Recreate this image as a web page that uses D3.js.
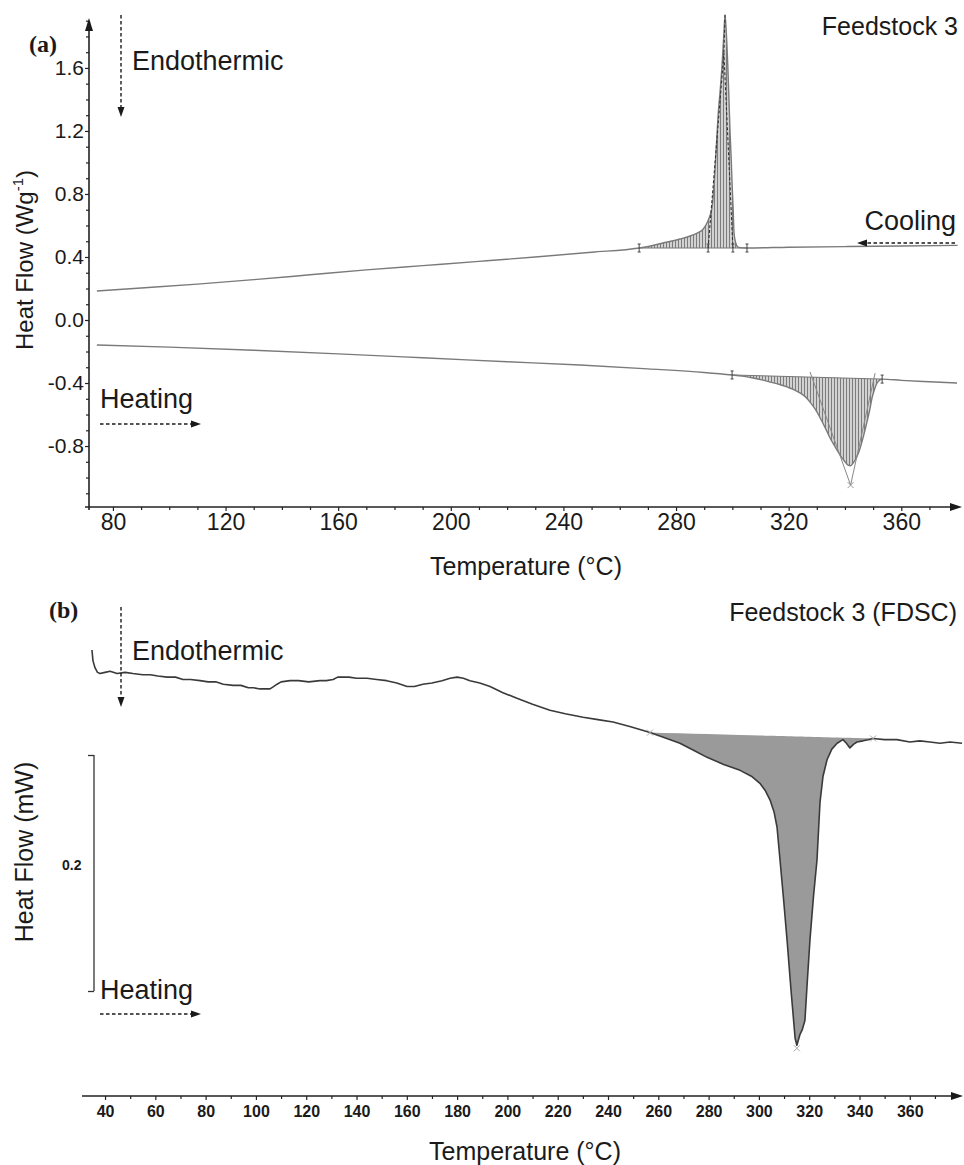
<!DOCTYPE html>
<html lang="en">
<head>
    <meta charset="UTF-8">
    <title>Feedstock 3 DSC / FDSC</title>
    <script src="https://d3js.org/d3.v7.min.js"></script>
    <style>
        body, html {
            margin: 0;
            padding: 0;
            overflow: hidden;
            background: #fff;
        }
        svg {
            display: block;
            background: #fff;
        }
        text {
            font-family: "Liberation Sans", Arial, sans-serif;
            fill: #1a1a1a;
        }
        .panel-tag {
            font-family: "Liberation Serif", "Times New Roman", serif;
            font-weight: bold;
        }
    </style>
</head>
<body>
<svg width="964" height="1165"></svg>

<script>
    // ---- (a) DSC, Wg-1 ----
    const coolT = [74.3, 90, 110, 130, 150, 170, 190, 210, 230, 250,
        266.9, 271, 275.4, 279, 281.4, 284.5, 287.5, 289.5, 291.0, 292.0,
        292.8, 293.4, 293.9, 294.4, 294.9, 295.6, 296.3, 297.0, 297.4, 297.8,
        298.4, 298.8, 299.2, 299.6, 299.9, 300.3, 300.6, 301.2, 302.0, 303.8,
        305.2, 320, 340, 360, 380];
    const coolHF = [0.184, 0.203, 0.228, 0.256, 0.287, 0.318, 0.345, 0.372, 0.400, 0.430,
        0.457, 0.470, 0.489, 0.503, 0.514, 0.530, 0.552, 0.575, 0.616, 0.660,
        0.717, 0.830, 0.971, 1.130, 1.289, 1.440, 1.606, 1.820, 1.937, 1.840,
        1.606, 1.400, 1.187, 1.020, 0.870, 0.700, 0.552, 0.490, 0.463, 0.458,
        0.457, 0.462, 0.466, 0.470, 0.474];

    const heatT = [74.3, 100, 130, 160, 190, 220, 245.9, 270, 290, 299.9,
        303.5, 307.4, 310.5, 313.4, 316.5, 319.4, 322, 324.0, 326, 327.6,
        329.5, 331.2, 333, 334.7, 336.5, 338.3, 339.8, 341.1, 342.0, 342.9,
        344.2, 345.4, 346.6, 347.8, 348.8, 349.6, 350.5, 351.4, 352.3, 353.2,
        360, 370, 379.8];
    const heatHF = [-0.159, -0.172, -0.192, -0.215, -0.240, -0.265, -0.286, -0.310, -0.333, -0.349,
        -0.356, -0.368, -0.380, -0.394, -0.408, -0.425, -0.443, -0.463, -0.488, -0.521,
        -0.568, -0.622, -0.685, -0.749, -0.805, -0.857, -0.895, -0.921, -0.925, -0.908,
        -0.870, -0.813, -0.735, -0.648, -0.570, -0.495, -0.440, -0.400, -0.382, -0.375,
        -0.383, -0.392, -0.400];

    const coolPeak = [266.9, 305.2];      // integration limits
    const heatPeak = [299.9, 353.2];
    const coolTangents = [[291.4, 0.457], [297.0, 1.695], [300.2, 0.457]];
    const heatTangents = [[327.6, -0.330], [342.0, -1.048], [350.7, -0.337]];

    const aTicksX = [80, 120, 160, 200, 240, 280, 320, 360];
    const aTicksY = [-0.8, -0.4, 0.0, 0.4, 0.8, 1.2, 1.6];

    // ---- (b) FDSC, mW ----
    const fdscT = [34.8, 35.2, 36.0, 37.0, 38.0, 40, 42, 44.8, 48, 51.1,
        55, 58, 61, 64.7, 68, 71, 74, 77.8, 81, 84,
        87, 90.9, 94, 97, 99, 101.6, 103.5, 105.6, 107, 108.4,
        110, 113.6, 117, 121, 125.5, 128, 130.7, 132.5, 134.6, 137,
        140, 144.2, 148, 152, 156, 160.1, 163, 166.4, 170, 174,
        177.2, 180, 182.5, 185.1, 189, 193.1, 198, 203.8, 210, 216.9,
        223, 230.1, 236, 242, 249, 256.7, 262, 268.6, 274, 279.4,
        286, 292.5, 297, 300.4, 302.5, 304.4, 306, 307.2, 308.4, 309.8,
        311.2, 312.8, 314.4, 315.1, 316.3, 317.2, 318.3, 319.3, 320.3, 321.7,
        323.1, 324.3, 325.5, 327.1, 329, 331.1, 333.4, 334.8, 336.2, 337.6,
        339.0, 341.4, 343.5, 345.4, 350, 354.9, 360, 364, 368, 372,
        376, 380.8];
    const fdscHF = [0.289, 0.280, 0.274, 0.270, 0.269, 0.270, 0.271, 0.269, 0.270, 0.269,
        0.268, 0.268, 0.267, 0.266, 0.266, 0.264, 0.264, 0.263, 0.262, 0.262,
        0.260, 0.259, 0.259, 0.257, 0.257, 0.256, 0.256, 0.256, 0.258, 0.260,
        0.262, 0.263, 0.263, 0.262, 0.263, 0.263, 0.264, 0.266, 0.266, 0.266,
        0.265, 0.265, 0.264, 0.263, 0.261, 0.258, 0.258, 0.260, 0.261, 0.263,
        0.265, 0.266, 0.265, 0.263, 0.261, 0.258, 0.253, 0.248, 0.243, 0.238,
        0.235, 0.232, 0.230, 0.228, 0.224, 0.219, 0.215, 0.210, 0.204, 0.198,
        0.192, 0.187, 0.182, 0.176, 0.170, 0.162, 0.152, 0.139, 0.111, 0.078,
        0.043, 0.000, -0.040, -0.046, -0.037, -0.033, -0.025, 0.010, 0.043, 0.080,
        0.111, 0.160, 0.182, 0.196, 0.205, 0.210, 0.213, 0.210, 0.206, 0.209,
        0.211, 0.212, 0.213, 0.214, 0.213, 0.213, 0.211, 0.212, 0.211, 0.210,
        0.211, 0.210];

    const fdscPeak = [256.7, 345.4];
    const fdscMin = [315.1, -0.046];
    const bTicksX = d3.range(40, 361, 20);
    const bScaleBar = [0, 0.2];

    const svg = d3.select('svg');
    const ink = '#1a1a1a';

    const defs = svg.append('defs');
    const hatch = defs.append('pattern')
        .attr('id', 'hatch')
        .attr('patternUnits', 'userSpaceOnUse')
        .attr('width', 3)
        .attr('height', 8);
    hatch.append('rect').attr('width', 3).attr('height', 8).attr('fill', '#d2d2d2');
    hatch.append('line')
        .attr('x1', 0.5).attr('x2', 0.5).attr('y1', 0).attr('y2', 8)
        .attr('stroke', '#7c7c7c').attr('stroke-width', 1);

    function arrowHead(g, x, y, angle, len, wid) {
        g.append('path')
            .attr('d', `M0,0 L${-len},${-wid / 2} L${-len},${wid / 2} Z`)
            .attr('transform', `translate(${x},${y}) rotate(${angle})`)
            .attr('fill', ink);
    }

    function dashedArrow(x1, y1, x2, y2) {
        const ang = Math.atan2(y2 - y1, x2 - x1);
        const len = 10;
        svg.append('line')
            .attr('x1', x1).attr('y1', y1)
            .attr('x2', x2 - Math.cos(ang) * len).attr('y2', y2 - Math.sin(ang) * len)
            .attr('stroke', ink).attr('stroke-width', 1.4)
            .attr('stroke-dasharray', '3.5,2.5');
        arrowHead(svg, x2, y2, ang * 180 / Math.PI, len, 7);
    }

    function label(x, y, txt, size, anchor) {
        return svg.append('text')
            .attr('x', x).attr('y', y)
            .attr('font-size', size)
            .attr('text-anchor', anchor || 'start')
            .text(txt);
    }

    function styleAxis(g, size, weight) {
        g.select('.domain').remove();
        g.selectAll('.tick line').attr('stroke', '#222').attr('stroke-width', 1.2);
        g.selectAll('.tick text')
            .attr('font-size', size)
            .attr('font-weight', weight || 'normal')
            .attr('fill', '#111')
            .attr('font-family', '"Liberation Sans", Arial, sans-serif');
    }

    function peakPoints(T, V, lim) {
        const v0 = V[T.indexOf(lim[0])];
        const v1 = V[T.indexOf(lim[1])];
        return T.map((t, i) => ({ t: t, v: V[i], b: v0 + (v1 - v0) * (t - lim[0]) / (lim[1] - lim[0]) }))
            .filter(d => d.t >= lim[0] && d.t <= lim[1]);
    }

    // =============== panel (a) ===============
    const xA = d3.scaleLinear().domain([71.5, 380.5]).range([89, 959]);
    const yA = d3.scaleLinear().domain([-1.187, 1.917]).range([507, 18]);
    const gA = svg.append('g');

    const axA = gA.append('g')
        .attr('transform', 'translate(0,507)')
        .call(d3.axisBottom(xA).tickValues(aTicksX).tickSize(4).tickPadding(3));
    styleAxis(axA, 23);
    const axAm = gA.append('g')
        .attr('transform', 'translate(0,507)')
        .call(d3.axisBottom(xA).tickValues(d3.range(80, 371, 10).filter(v => v % 40 !== 0)).tickSize(3).tickFormat(''));
    styleAxis(axAm, 10);

    const ayA = gA.append('g')
        .attr('transform', 'translate(89,0)')
        .call(d3.axisLeft(yA).tickValues(aTicksY).tickSize(4).tickPadding(1).tickFormat(d => d.toFixed(1)));
    styleAxis(ayA, 21);
    const ayAm = gA.append('g')
        .attr('transform', 'translate(89,0)')
        .call(d3.axisLeft(yA).tickValues(d3.range(-11, 20).filter(i => i % 4 !== 0).map(i => i / 10)).tickSize(3).tickFormat(''));
    styleAxis(ayAm, 10);

    gA.append('line').attr('x1', 85).attr('x2', 951).attr('y1', 507).attr('y2', 507)
        .attr('stroke', '#222').attr('stroke-width', 1.6);
    arrowHead(gA, 962, 507, 0, 12, 8);
    gA.append('line').attr('x1', 89).attr('x2', 89).attr('y1', 510).attr('y2', 30)
        .attr('stroke', '#222').attr('stroke-width', 1.6);
    arrowHead(gA, 89, 18, -90, 13, 8);

    const lineA = d3.line().x(d => xA(d[0])).y(d => yA(d[1])).curve(d3.curveMonotoneX);
    const areaA = d3.area().x(d => xA(d.t)).y0(d => yA(d.b)).y1(d => yA(d.v)).curve(d3.curveMonotoneX);

    // hatched peak areas
    const coolPts = peakPoints(coolT, coolHF, coolPeak);
    const heatPts = peakPoints(heatT, heatHF, heatPeak);
    gA.append('path').datum(coolPts).attr('d', areaA).attr('fill', 'url(#hatch)');
    gA.append('path').datum(heatPts).attr('d', areaA).attr('fill', 'url(#hatch)');

    // integration baselines
    [coolPts, heatPts].forEach(pts => {
        const a = pts[0], b = pts[pts.length - 1];
        gA.append('line')
            .attr('x1', xA(a.t)).attr('y1', yA(a.b)).attr('x2', xA(b.t)).attr('y2', yA(b.b))
            .attr('stroke', '#777').attr('stroke-width', 1);
    });

    // curves
    gA.append('path').datum(coolT.map((t, i) => [t, coolHF[i]])).attr('d', lineA)
        .attr('fill', 'none').attr('stroke', '#7a7a7a').attr('stroke-width', 1.4);
    gA.append('path').datum(heatT.map((t, i) => [t, heatHF[i]])).attr('d', lineA)
        .attr('fill', 'none').attr('stroke', '#7a7a7a').attr('stroke-width', 1.4);

    // tangents
    const straight = d3.line().x(d => xA(d[0])).y(d => yA(d[1]));
    gA.append('path').datum(coolTangents).attr('d', straight)
        .attr('fill', 'none').attr('stroke', '#333').attr('stroke-width', 1.1).attr('stroke-dasharray', '3,2');
    gA.append('line')
        .attr('x1', xA(297.4)).attr('y1', yA(1.937)).attr('x2', xA(coolTangents[1][0])).attr('y2', yA(coolTangents[1][1]))
        .attr('stroke', '#333').attr('stroke-width', 1.1).attr('stroke-dasharray', '3,2');
    gA.append('path').datum(heatTangents).attr('d', straight)
        .attr('fill', 'none').attr('stroke', '#888').attr('stroke-width', 1);

    // limit markers
    const limitMarks = [[coolPeak[0], 0.457], [291.4, 0.457], [300.2, 0.457], [coolPeak[1], 0.457],
        [heatPeak[0], -0.349], [heatPeak[1], -0.375]];
    limitMarks.forEach(m => {
        const x = xA(m[0]), y = yA(m[1]);
        gA.append('path')
            .attr('d', `M${x - 1.5},${y - 4} H${x + 1.5} M${x},${y - 4} V${y + 4} M${x - 1.5},${y + 4} H${x + 1.5}`)
            .attr('stroke', '#444').attr('stroke-width', 1).attr('fill', 'none');
    });
    const hx = xA(heatTangents[1][0]), hy = yA(heatTangents[1][1]);
    gA.append('path').attr('d', `M${hx - 3},${hy - 3} L${hx + 3},${hy + 3} M${hx - 3},${hy + 3} L${hx + 3},${hy - 3}`)
        .attr('stroke', '#999').attr('stroke-width', 1);

    // texts (a)
    svg.append('text').attr('class', 'panel-tag').attr('x', 29).attr('y', 52).attr('font-size', 24).text('(a)');
    label(132, 70, 'Endothermic', 27);
    label(958, 35, 'Feedstock 3', 25, 'end');
    label(956, 230, 'Cooling', 27, 'end');
    label(100, 408, 'Heating', 27);
    label(526, 575, 'Temperature (°C)', 25, 'middle');
    const yLabA = svg.append('text')
        .attr('transform', 'translate(33,260) rotate(-90)')
        .attr('text-anchor', 'middle')
        .attr('font-size', 24);
    yLabA.append('tspan').text('Heat Flow (Wg');
    yLabA.append('tspan').attr('font-size', 15).attr('dy', -10).text('-1');
    yLabA.append('tspan').attr('dy', 10).text(')');

    dashedArrow(121, 15, 121, 117);
    dashedArrow(955, 243, 857, 243);
    dashedArrow(100, 424, 201, 424);

    // =============== panel (b) ===============
    const xB = d3.scaleLinear().domain([31, 381]).range([82.4, 962.6]);
    const yB = d3.scaleLinear().domain(bScaleBar).range([991, 755]);
    const gB = svg.append('g');

    const axB = gB.append('g')
        .attr('transform', 'translate(0,1096)')
        .call(d3.axisBottom(xB).tickValues(bTicksX).tickSize(4).tickPadding(6));
    styleAxis(axB, 16, 'bold');
    const axBm = gB.append('g')
        .attr('transform', 'translate(0,1096)')
        .call(d3.axisBottom(xB).tickValues(d3.range(50, 371, 20)).tickSize(3).tickFormat(''));
    styleAxis(axBm, 10);
    gB.append('line').attr('x1', 82).attr('x2', 952).attr('y1', 1096).attr('y2', 1096)
        .attr('stroke', '#222').attr('stroke-width', 1.6);
    arrowHead(gB, 963, 1096, 0, 12, 8);

    // scale bar
    const sb = gB.append('g').attr('transform', 'translate(94,0)')
        .call(d3.axisLeft(yB).tickValues(bScaleBar).tickSize(6).tickFormat(''));
    sb.select('.domain').attr('stroke', '#333').attr('stroke-width', 1.3);
    sb.selectAll('.tick line').attr('stroke', '#333').attr('stroke-width', 1.3);
    sb.selectAll('.domain').attr('d', `M0,${yB(bScaleBar[1])} V${yB(bScaleBar[0])}`);
    svg.append('text').attr('x', 62).attr('y', yB(0.1) - 3).attr('font-size', 14).attr('font-weight', 'bold').text('0.2');

    const lineB = d3.line().x(d => xB(d[0])).y(d => yB(d[1]));
    const areaB = d3.area().x(d => xB(d.t)).y0(d => yB(d.b)).y1(d => yB(d.v));
    const fdscPts = peakPoints(fdscT, fdscHF, fdscPeak);
    gB.append('path').datum(fdscPts).attr('d', areaB).attr('fill', '#9a9a9a');
    gB.append('path').datum(fdscT.map((t, i) => [t, fdscHF[i]])).attr('d', lineB)
        .attr('fill', 'none').attr('stroke', '#3a3a3a').attr('stroke-width', 1.6).attr('stroke-linejoin', 'round');

    [[fdscPeak[0], fdscHF[fdscT.indexOf(fdscPeak[0])]], [fdscPeak[1], fdscHF[fdscT.indexOf(fdscPeak[1])]], fdscMin].forEach(m => {
        const x = xB(m[0]), y = yB(m[1]) + (m === fdscMin ? 3 : 0);
        gB.append('path').attr('d', `M${x - 3},${y - 3} L${x + 3},${y + 3} M${x - 3},${y + 3} L${x + 3},${y - 3}`)
            .attr('stroke', '#aaa').attr('stroke-width', 1);
    });

    // texts (b)
    svg.append('text').attr('class', 'panel-tag').attr('x', 49).attr('y', 618).attr('font-size', 24).text('(b)');
    label(132, 660, 'Endothermic', 27);
    label(957, 621, 'Feedstock 3 (FDSC)', 25, 'end');
    label(100, 999, 'Heating', 27);
    label(525, 1160, 'Temperature (°C)', 25, 'middle');
    svg.append('text')
        .attr('transform', 'translate(33,852) rotate(-90)')
        .attr('text-anchor', 'middle')
        .attr('font-size', 25)
        .text('Heat Flow (mW)');

    dashedArrow(121, 607, 121, 707);
    dashedArrow(100, 1014, 201, 1014);
</script>
</body>
</html>
